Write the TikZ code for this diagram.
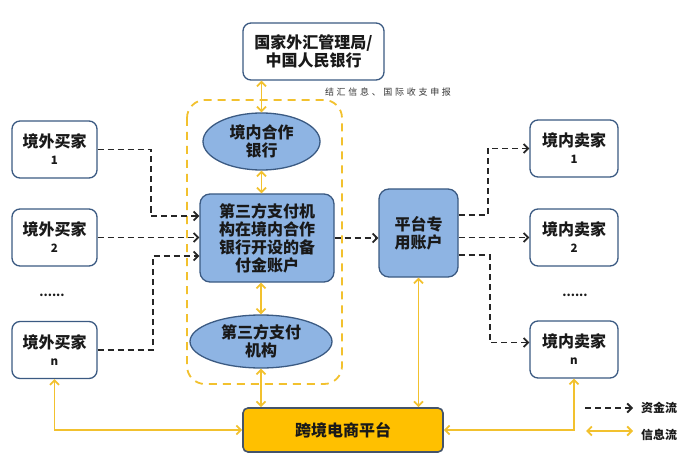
\documentclass[tikz,border=0pt]{standalone}
\usepackage{fontspec}
\setmainfont{Noto Sans CJK SC}
\newfontfamily\cjkspaced{Noto Sans CJK SC}[LetterSpace=30]
\usetikzlibrary{arrows.meta,calc,shapes.geometric}
\definecolor{borderblue}{RGB}{59,90,130}
\definecolor{fillblue}{RGB}{142,180,227}
\definecolor{infoyellow}{RGB}{242,193,46}
\definecolor{ecomfill}{RGB}{255,192,0}
\definecolor{ecomborder}{RGB}{68,84,106}
\begin{document}
\begin{tikzpicture}[x=1pt,y=-1pt,
  every node/.style={font=\bfseries\fontsize{16}{18}\selectfont, text=black!90, align=center, inner sep=0pt},
  wbox/.style={draw=borderblue, line width=1.3pt, fill=white, rounded corners=8pt, minimum width=85pt, minimum height=57pt},
  bbox/.style={draw=borderblue, line width=1.3pt, fill=fillblue, rounded corners=10pt},
  bell/.style={ellipse, draw=borderblue, line width=1.3pt, fill=fillblue},
  money/.style={draw=black!85, line width=1.8pt, dash pattern=on 6pt off 4pt, -{Straight Barb[length=4.5pt,width=9pt]}},
  info/.style={draw=infoyellow, line width=1.8pt, {Straight Barb[length=4.5pt,width=9pt]}-{Straight Barb[length=4.5pt,width=9pt]}},
  dotsnode/.style={font=\bfseries\fontsize{12}{12}\selectfont},
]
\useasboundingbox (0,0) rectangle (700,470);

% dashed frame
\draw[infoyellow, line width=1.8pt, dash pattern=on 8pt off 6pt, rounded corners=18pt] (187,100) rectangle (342,384);

% nodes
\node[wbox, minimum width=141pt, minimum height=57pt] (gov) at (313.5,51.5) {国家外汇管理局/\\中国人民银行};
\node[font=\fontsize{9}{9}\selectfont\cjkspaced, text=black!80] (lbl) at (388,92) {结汇信息、国际收支申报};

\node[bell, minimum width=117pt, minimum height=57pt] (bank) at (261.5,141.5) {境内合作\\银行};
\node[bbox, minimum width=134pt, minimum height=88pt] (res) at (267,238) {第三方支付机\\构在境内合作\\银行开设的备\\付金账户};
\node[bell, minimum width=142pt, minimum height=53pt] (tpp) at (261,341.5) {第三方支付\\机构};
\node[bbox, minimum width=79pt, minimum height=88pt] (plat) at (418.5,233) {平台专\\用账户};
\node[draw=ecomborder, line width=1.6pt, fill=ecomfill, rounded corners=5pt, minimum width=200pt, minimum height=44pt] (ecom) at (343,430) {跨境电商平台};

\node[wbox] (b1) at (54.5,149.5) {境外买家\\[-1pt]{\fontsize{11.5}{11.5}\selectfont 1}};
\node[wbox] (b2) at (54.5,237.5) {境外买家\\[-1pt]{\fontsize{11.5}{11.5}\selectfont 2}};
\node[dotsnode] (bd) at (52,295) {......};
\node[wbox] (bn) at (54.5,350) {境外买家\\[-1pt]{\fontsize{11.5}{11.5}\selectfont n}};

\node[wbox, minimum width=88pt] (s1) at (574,148.5) {境内卖家\\[-1pt]{\fontsize{11.5}{11.5}\selectfont 1}};
\node[wbox, minimum width=88pt] (s2) at (574,237.5) {境内卖家\\[-1pt]{\fontsize{11.5}{11.5}\selectfont 2}};
\node[dotsnode] (sd) at (575,295) {......};
\node[wbox, minimum width=88pt] (sn) at (574,349.5) {境内卖家\\[-1pt]{\fontsize{11.5}{11.5}\selectfont n}};

% information flows
\draw[info] (bank.north |- gov.south) -- (bank.north);
\draw[info] (bank.south) -- (bank.south |- res.north);
\draw[info] (tpp.north |- res.south) -- (tpp.north);
\draw[info] (tpp.south) -- (tpp.south |- ecom.north);
\draw[info] (plat.south) -- (plat.south |- ecom.north);
\draw[info] (bn.south) |- (ecom.west);
\draw[info] (sn.south) |- (ecom.east);

% money flows
\draw[money] (b1.east) -- ++(53,0) |- ($(res.west)+(0,-22)$);
\draw[money] (b2.east) -- (b2.east -| res.west);
\draw[money] (bn.east) -- ++(55,0) |- ($(res.west)+(0,18)$);
\draw[money] (res.east) -- (res.east -| plat.west);
\draw[money] ($(plat.east)+(0,-18)$) -- ++(29,0) |- (s1.west);
\draw[money] (s2.west -| plat.east) -- (s2.west);
\draw[money] ($(plat.east)+(0,22)$) -- ++(31,0) |- ($(sn.west)+(0,-7)$);

% legend
\coordinate (la1) at (585,408);
\coordinate (la2) at (633,408);
\coordinate (lb1) at (586,431);
\coordinate (lb2) at (633,431);
\draw[money] (la1) -- (la2);
\draw[info] (lb1) -- (lb2);
\node[font=\bfseries\fontsize{12}{12}\selectfont, anchor=west] (lga) at (641,408) {资金流};
\node[font=\bfseries\fontsize{12}{12}\selectfont, anchor=west] (lgb) at (641,435) {信息流};
\end{tikzpicture}
\end{document}
